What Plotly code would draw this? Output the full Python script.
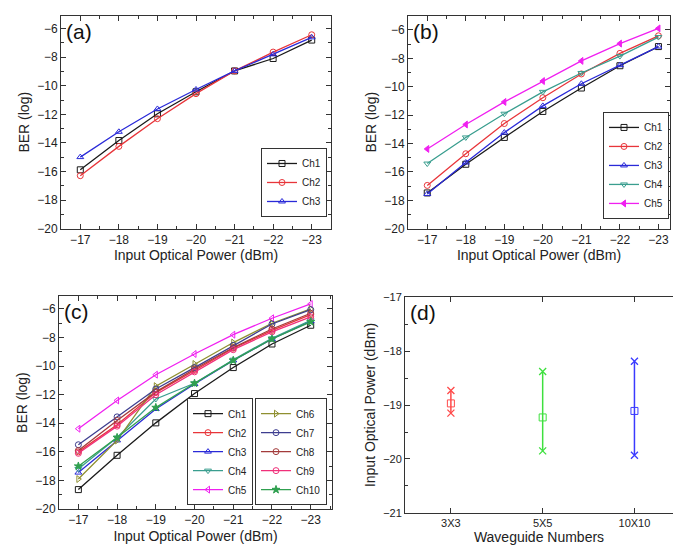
import plotly.graph_objects as go

# ---------------- data ----------------
power = [-17, -18, -19, -20, -21, -22, -23]

a_names = ["Ch1", "Ch2", "Ch3"]
a_ch1 = [-15.88, -13.83, -11.96, -10.42, -8.96, -8.09, -6.80]
a_ch2 = [-16.29, -14.24, -12.30, -10.55, -8.96, -7.64, -6.43]
a_ch3 = [-14.99, -13.22, -11.62, -10.26, -8.96, -7.80, -6.61]

b_names = ["Ch1", "Ch2", "Ch3", "Ch4", "Ch5"]
b_ch1 = [-17.48, -15.46, -13.57, -11.74, -10.09, -8.52, -7.17]
b_ch2 = [-16.95, -14.72, -12.59, -10.77, -9.10, -7.65, -6.41]
b_ch3 = [-17.55, -15.34, -13.23, -11.35, -9.79, -8.48, -7.17]
b_ch4 = [-15.41, -13.57, -11.90, -10.36, -9.03, -7.84, -6.50]
b_ch5 = [-14.38, -12.66, -11.07, -9.60, -8.18, -6.96, -5.89]

c_names = ["Ch1", "Ch2", "Ch3", "Ch4", "Ch5", "Ch6", "Ch7", "Ch8", "Ch9", "Ch10"]
c_ch1 = [-18.64, -16.24, -13.97, -11.92, -10.10, -8.45, -7.14]
c_ch2 = [-16.00, -14.10, -11.85, -10.30, -8.75, -7.50, -6.40]
c_ch3 = [-17.45, -15.20, -13.00, -11.25, -9.60, -8.10, -6.85]
c_ch4 = [-17.20, -15.00, -12.30, -11.20, -9.55, -8.05, -6.80]
c_ch5 = [-14.38, -12.40, -10.60, -9.15, -7.80, -6.65, -5.65]
c_ch6 = [-17.90, -15.20, -11.40, -9.85, -8.35, -7.00, -6.00]
c_ch7 = [-15.50, -13.55, -11.60, -10.10, -8.55, -7.05, -6.05]
c_ch8 = [-15.90, -13.80, -11.80, -10.20, -8.70, -7.40, -6.30]
c_ch9 = [-16.10, -14.20, -12.00, -10.40, -8.85, -7.60, -6.55]
c_ch10 = [-17.00, -15.00, -12.90, -11.20, -9.60, -8.10, -6.90]

d_cats = ["3X3", "5X5", "10X10"]
d_pos = [1, 2, 3]
d_mean = [-18.97, -19.23, -19.11]
d_max = [-18.73, -18.38, -18.19]
d_min = [-19.15, -19.85, -19.93]

# ---------------- styles ----------------
ch_colors = ["#1a1a1a", "#e8353a", "#2a2ad8", "#3a9e8f", "#f020f0",
             "#8f8f30", "#3d3d8f", "#a33b3b", "#f0307a", "#30a050"]
ch_symbols = ["square-open", "circle-open", "triangle-up-open", "triangle-down-open",
              "triangle-left-open", "triangle-right-open", "circle-open",
              "circle-open", "circle-open", "star"]
b_symbols = ["square-open", "circle-open", "triangle-up-open", "triangle-down-open",
             "triangle-left"]
d_colors = ["#ff4a4a", "#3ee03e", "#3a3aff"]

FONT = "Liberation Sans, Arial, sans-serif"
fig = go.Figure()

def add_series(names, series, xa, ya, legs, symbols):
    for i, (n, ys) in enumerate(zip(names, series)):
        fig.add_trace(go.Scatter(
            x=power, y=ys, name=n, mode="lines+markers",
            xaxis=xa, yaxis=ya, legend=legs[i],
            line=dict(color=ch_colors[i], width=1.3),
            marker=dict(symbol=symbols[i], size=6, color=ch_colors[i],
                        line=dict(width=1, color=ch_colors[i]))))

add_series(a_names, [a_ch1, a_ch2, a_ch3], "x", "y", ["legend"] * 3, ch_symbols)
add_series(b_names, [b_ch1, b_ch2, b_ch3, b_ch4, b_ch5], "x2", "y2", ["legend2"] * 5, b_symbols)
add_series(c_names, [c_ch1, c_ch2, c_ch3, c_ch4, c_ch5, c_ch6, c_ch7, c_ch8, c_ch9, c_ch10],
           "x3", "y3", ["legend3"] * 5 + ["legend4"] * 5, ch_symbols)

# panel (d)
for i in range(3):
    fig.add_trace(go.Scatter(
        x=[d_pos[i]], y=[d_mean[i]], mode="markers", showlegend=False,
        xaxis="x4", yaxis="y4",
        marker=dict(symbol="square-open", size=7, color=d_colors[i], line=dict(width=1)),
        error_y=dict(type="data", symmetric=False,
                     array=[d_max[i] - d_mean[i]], arrayminus=[d_mean[i] - d_min[i]],
                     color=d_colors[i], thickness=1.5, width=0)))
    fig.add_trace(go.Scatter(
        x=[d_pos[i], d_pos[i]], y=[d_max[i], d_min[i]], mode="markers", showlegend=False,
        xaxis="x4", yaxis="y4",
        marker=dict(symbol="x-thin-open", size=7, color=d_colors[i],
                    line=dict(width=1.3, color=d_colors[i]))))

tickfont = dict(family=FONT, size=12, color="#222")
titlefont = dict(family=FONT, size=14, color="#222")

def ax(domain, rng, dtick, minor_dtick, title, anchor, standoff=4, mirror="ticks", **kw):
    d = dict(domain=domain, range=rng, anchor=anchor, showline=True, linecolor="#333",
             linewidth=1, mirror=mirror, ticks="inside", ticklen=5, tickwidth=1,
             tickcolor="#333", dtick=dtick, tickfont=tickfont,
             minor=dict(ticks="inside", ticklen=3, dtick=minor_dtick, tickcolor="#333"),
             showgrid=False, zeroline=False,
             title=dict(text=title, font=titlefont, standoff=standoff))
    d.update(kw)
    return d

W, H = 673, 560
def px_x(a, b):
    return [a / W, b / W]
def px_y(top, bottom):
    return [1 - bottom / H, 1 - top / H]

legend_common = dict(bgcolor="white", bordercolor="#333", borderwidth=1,
                     font=dict(family=FONT, size=10, color="#222"),
                     itemwidth=30, tracegroupgap=0, xanchor="right", yanchor="bottom")

fig.update_layout(
    width=W, height=H, margin=dict(l=0, r=0, t=0, b=0),
    paper_bgcolor="white", plot_bgcolor="white",
    font=dict(family=FONT, color="#222"),
    xaxis=ax(px_x(61, 331), [-16.5, -23.5], 1, 0.5, "Input Optical Power (dBm)", "y", tick0=-17),
    yaxis=ax(px_y(10, 228), [-20, -5.1], 2, 1, "BER (log)", "x"),
    xaxis2=ax(px_x(408, 670), [-16.5, -23.3], 1, 0.5, "Input Optical Power (dBm)", "y2", tick0=-17),
    yaxis2=ax(px_y(10, 228), [-20, -5.0], 2, 1, "BER (log)", "x2"),
    xaxis3=ax(px_x(59, 332), [-16.5, -23.55], 1, 0.5, "Input Optical Power (dBm)", "y3", tick0=-17),
    yaxis3=ax(px_y(297, 515), [-20, -5.1], 2, 1, "BER (log)", "x3"),
    xaxis4=ax(px_x(405, 673), [0.5, 3.42], None, None, "Waveguide Numbers", "y4",
              tickmode="array", tickvals=d_pos, ticktext=d_cats,
              tickfont=dict(family=FONT, size=11, color="#222"),
              minor=dict(ticks="")),
    yaxis4=ax(px_y(298, 519), [-21, -17], 1, 0.5, "Input Optical Power (dBm)", "x4",
              mirror=False, tickfont=dict(family=FONT, size=11, color="#222")),
    legend=dict(x=327 / W, y=1 - 216 / H, **legend_common),
    legend2=dict(x=669 / W, y=1 - 218 / H, **legend_common),
    legend3=dict(x=253 / W, y=1 - 511 / H, **legend_common),
    legend4=dict(x=327 / W, y=1 - 511 / H, **legend_common),
)

labels = [("(a)", "x", "y"), ("(b)", "x2", "y2"), ("(c)", "x3", "y3"), ("(d)", "x4", "y4")]
for txt, xa, ya in labels:
    fig.add_annotation(text=txt, xref=f"{xa} domain", yref=f"{ya} domain",
                       x=0.01, y=0.99, xanchor="left", yanchor="top", showarrow=False,
                       font=dict(family=FONT, size=21, color="#111"))

fig.write_html("out.html", config={"displayModeBar": False},
               post_script="document.body.style.margin='0';document.body.style.padding='0';")
